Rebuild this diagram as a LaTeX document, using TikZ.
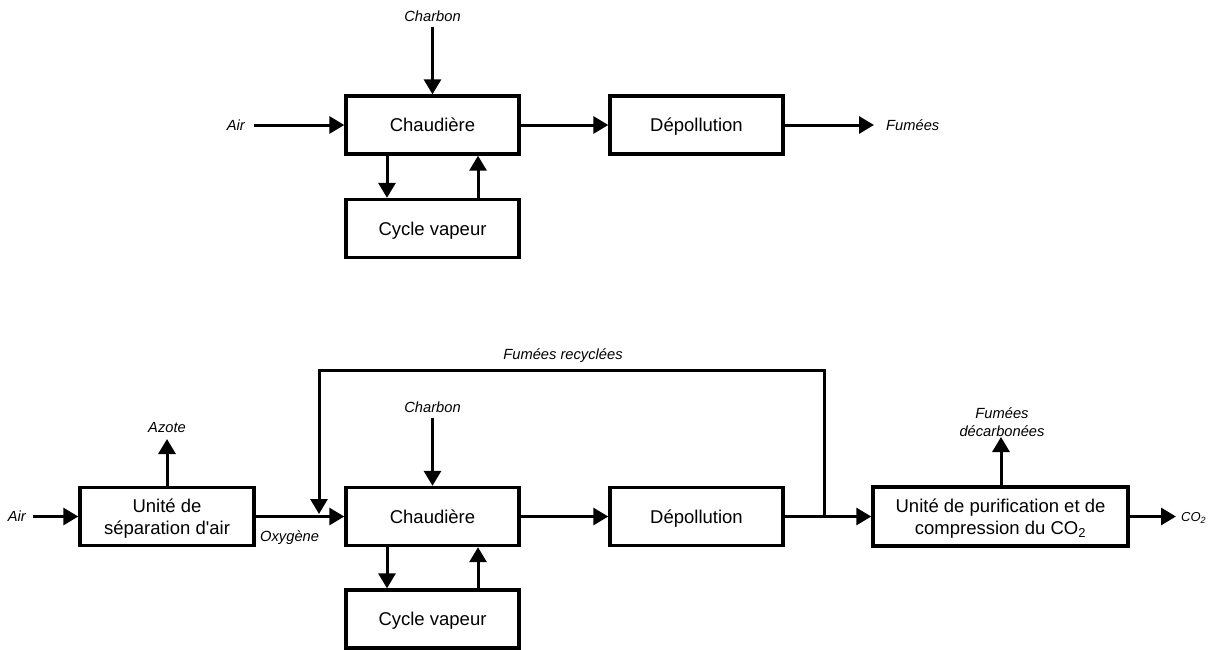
\documentclass[tikz,border=0pt]{standalone}
\usepackage{fontspec}
\setmainfont{Liberation Sans}
\usetikzlibrary{arrows.meta}
\newcommand{\topstrut}{\rule{0pt}{18.5pt}}
\begin{document}
\begin{tikzpicture}[x=1pt,y=-1pt,
  boxbase/.style={draw, line width=3.4pt, rectangle, minimum width=173pt, minimum height=58pt, inner sep=0pt, font=\fontsize{18.5}{22}\selectfont},
  box/.style={boxbase, text height=13.8pt, text depth=0pt},
  box2/.style={boxbase, align=center},
  lbl/.style={font=\itshape\fontsize{14.7}{17}\selectfont, inner sep=2pt, align=center},
  flow/.style={line width=3pt, -{Triangle[length=15pt,width=17pt]}}]
\useasboundingbox (0,0) rectangle (1218,649);

% ---------- top diagram ----------
\node[box] (ch1) at (432.5,125) {Chaudière};
\node[box] (cv1) at (432.5,228.5) {Cycle vapeur};
\node[box] (dp1) at (696.5,125) {Dépollution};
\node[lbl] (cb1) at (432.5,16) {Charbon};
\node[lbl,anchor=east] (air1) at (247,125) {Air};
\coordinate (fu1tip) at (874,125);
\node[lbl,anchor=west] (fu1) at (884,125) {Fumées};

\draw[flow] ([yshift=-3pt]cb1.south) -- (ch1.north);
\draw[flow] ([xshift=7pt]air1.east) -- (ch1.west);
\draw[flow] (ch1.east) -- (dp1.west);
\draw[flow] (dp1.east) -- (fu1tip);
\draw[flow] ([xshift=-45.5pt]ch1.south) -- ([xshift=-45.5pt]cv1.north);
\draw[flow] ([xshift=45.5pt]cv1.north) -- ([xshift=45.5pt]ch1.south);

% ---------- bottom diagram ----------
\node[box2, minimum width=174pt] (usa) at (167,516.5) {\topstrut Unité de\\séparation d\textquotesingle air};
\node[box] (ch2) at (432.5,516.5) {Chaudière};
\node[box] (cv2) at (432.5,619) {Cycle vapeur};
\node[box] (dp2) at (696.5,516.5) {Dépollution};
\node[box2, minimum width=255pt, minimum height=59pt] (pur) at (1000.5,516.5) {\topstrut Unité de purification et de\\compression du CO\textsubscript{2}};

\node[lbl,anchor=east] (air2) at (28,516.5) {Air};
\node[lbl,anchor=west] (oxy) at (258,538) {Oxygène};
\node[lbl] (cb2) at (432.5,407) {Charbon};
\node[lbl] (az) at (167,428) {Azote};
\coordinate (aztip) at (167,439);
\node[lbl, font=\itshape\fontsize{14.7}{18}\selectfont] (fd) at (1002,422) {Fumées\\décarbonées};
\coordinate (fdtip) at (1001,437);
\coordinate (co2tip) at (1176,516.5);
\node[lbl,anchor=west, font=\itshape\fontsize{13}{15}\selectfont] (co2) at (1179,518) {CO\textsubscript{2}};
\node[lbl] (rec) at (563,356) {Fumées recyclées};

\coordinate (j) at (824,516.5);
\coordinate (rt) at (824,370);
\coordinate (lt) at (319,370);
\coordinate (ld) at (319,514);

\draw[flow] ([xshift=5pt]air2.east) -- (usa.west);
\draw[flow] (usa.east) -- (ch2.west);
\draw[flow] (usa.north) -- (aztip);
\draw[flow] ([yshift=-3pt]cb2.south) -- (ch2.north);
\draw[flow] (ch2.east) -- (dp2.west);
\draw[flow] (dp2.east) -- (pur.west);
\draw[flow, line join=miter] (j) -- (rt) -- (lt) -- (ld);
\draw[flow] (pur.north -| fdtip) -- (fdtip);
\draw[flow] (pur.east) -- (co2tip);
\draw[flow] ([xshift=-45.5pt]ch2.south) -- ([xshift=-45.5pt]cv2.north);
\draw[flow] ([xshift=45.5pt]cv2.north) -- ([xshift=45.5pt]ch2.south);
\end{tikzpicture}
\end{document}
